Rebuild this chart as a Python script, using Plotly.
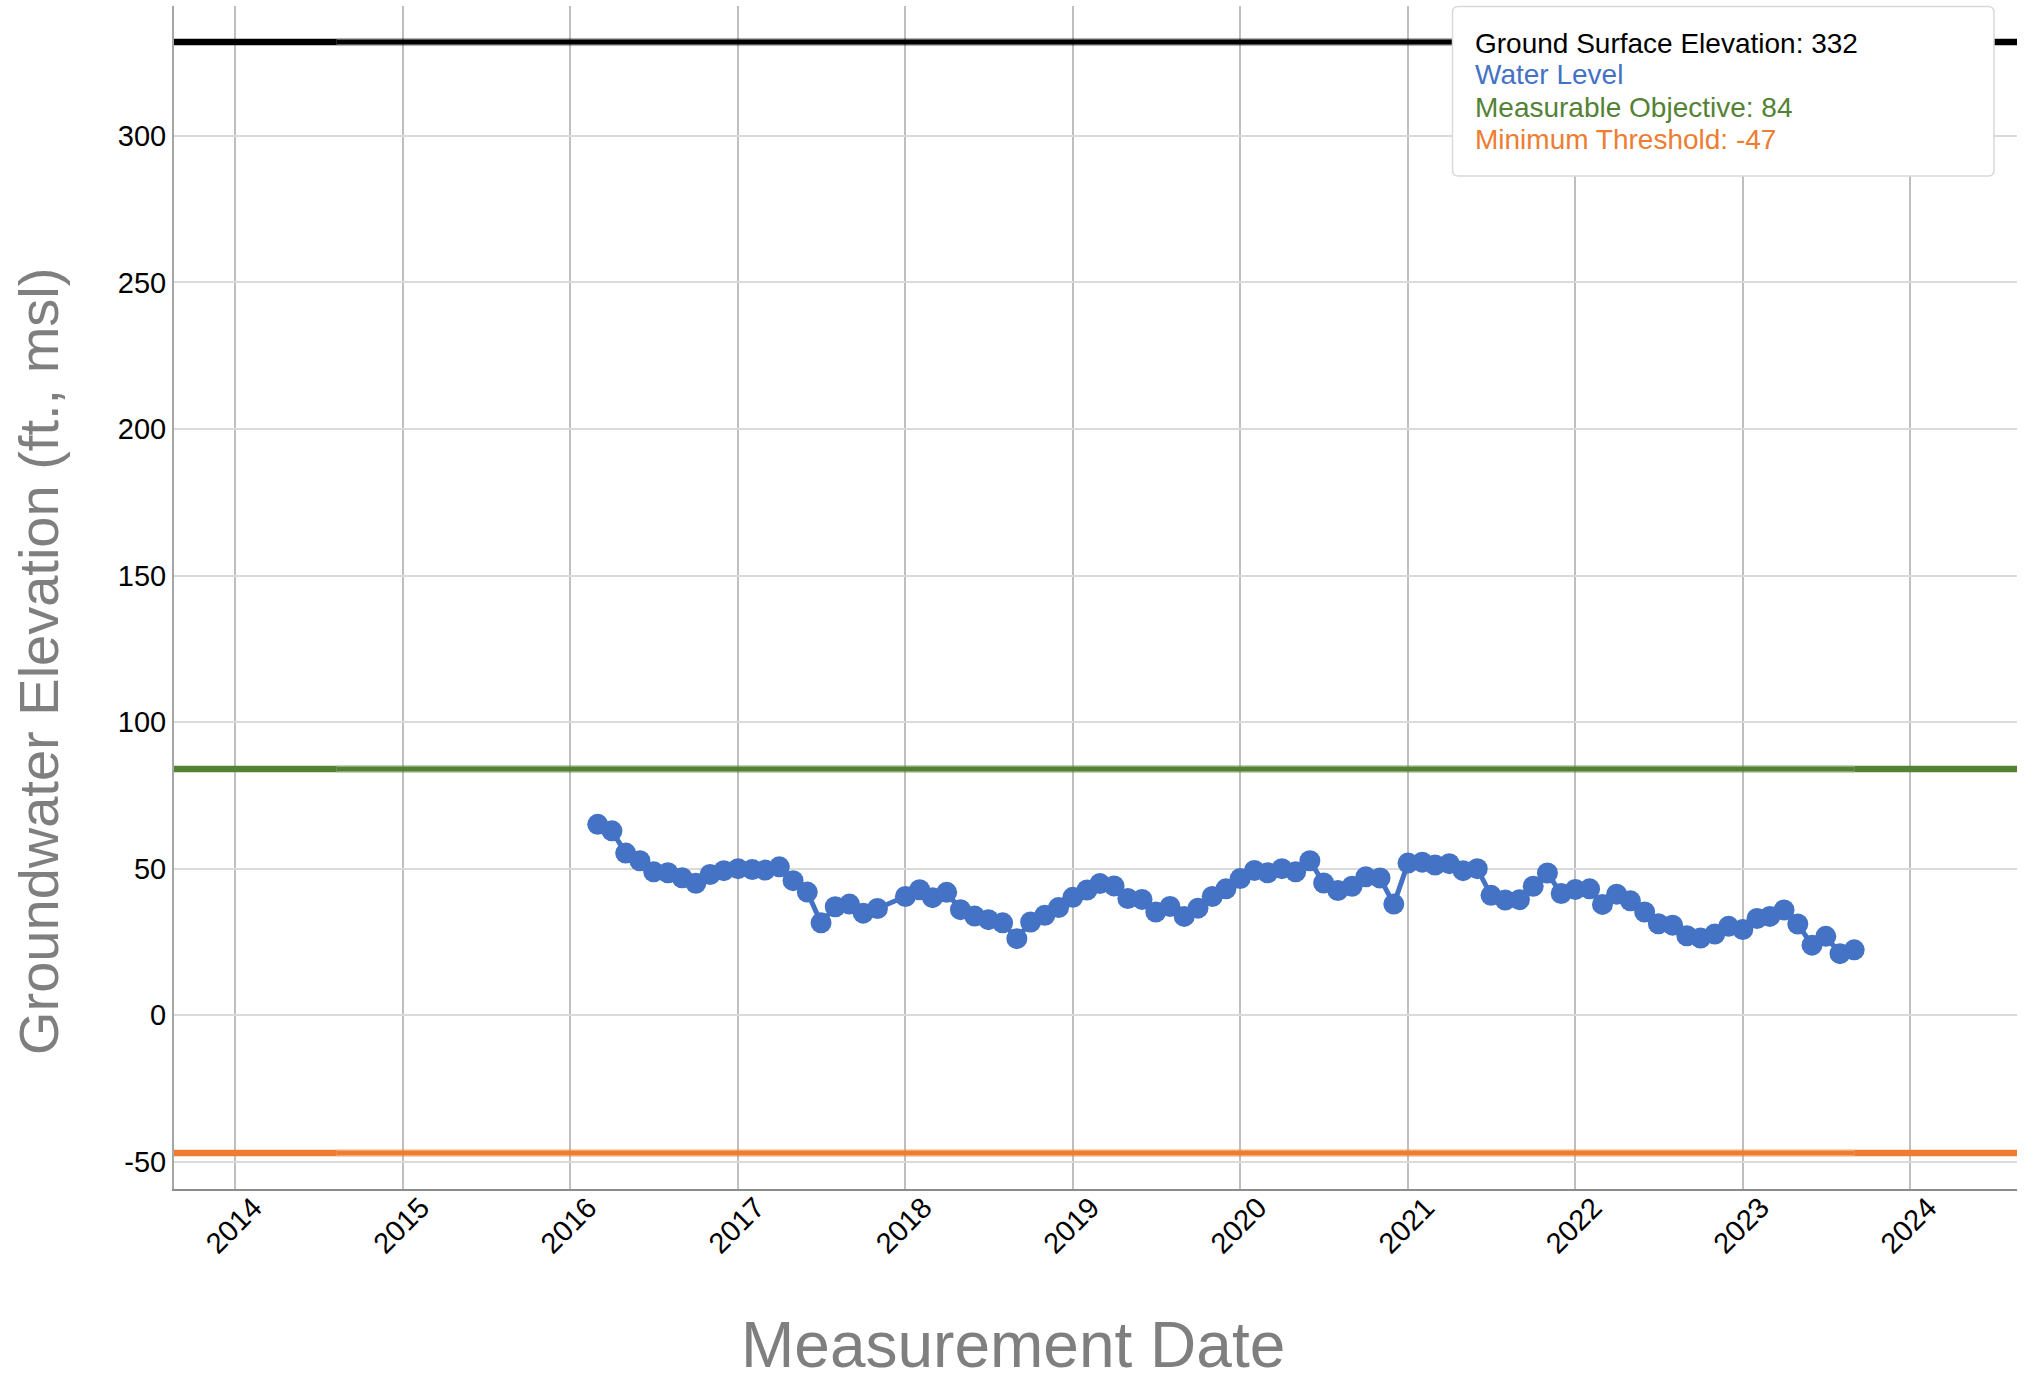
import plotly.graph_objects as go

# ---------------- data ----------------
measurement_dates = [
    "2016-03-01", "2016-04-01", "2016-05-01", "2016-06-01", "2016-07-01", "2016-08-01",
    "2016-09-01", "2016-10-01", "2016-11-01", "2016-12-01",
    "2017-01-01", "2017-02-01", "2017-03-01", "2017-04-01", "2017-05-01", "2017-06-01",
    "2017-07-01", "2017-08-01", "2017-09-01", "2017-10-01", "2017-11-01",
    "2018-01-01", "2018-02-01", "2018-03-01", "2018-04-01", "2018-05-01", "2018-06-01",
    "2018-07-01", "2018-08-01", "2018-09-01", "2018-10-01", "2018-11-01", "2018-12-01",
    "2019-01-01", "2019-02-01", "2019-03-01", "2019-04-01", "2019-05-01", "2019-06-01",
    "2019-07-01", "2019-08-01", "2019-09-01", "2019-10-01", "2019-11-01", "2019-12-01",
    "2020-01-01", "2020-02-01", "2020-03-01", "2020-04-01", "2020-05-01", "2020-06-01",
    "2020-07-01", "2020-08-01", "2020-09-01", "2020-10-01", "2020-11-01", "2020-12-01",
    "2021-01-01", "2021-02-01", "2021-03-01", "2021-04-01", "2021-05-01", "2021-06-01",
    "2021-07-01", "2021-08-01", "2021-09-01", "2021-10-01", "2021-11-01", "2021-12-01",
    "2022-01-01", "2022-02-01", "2022-03-01", "2022-04-01", "2022-05-01", "2022-06-01",
    "2022-07-01", "2022-08-01", "2022-09-01", "2022-10-01", "2022-11-01", "2022-12-01",
    "2023-01-01", "2023-02-01", "2023-03-01", "2023-04-01", "2023-05-01", "2023-06-01",
    "2023-07-01", "2023-08-01", "2023-09-01",
]
water_level = [
    65.1, 62.9, 55.3, 52.7, 48.9, 48.6, 46.9, 45.0, 48.0, 49.3,
    50.0, 49.7, 49.5, 50.6, 45.9, 42.0, 31.5, 37.0, 37.9, 34.8, 36.4,
    40.5, 42.8, 40.1, 41.9, 36.0, 33.8, 32.6, 31.5, 26.1, 31.8, 34.1, 36.7,
    40.2, 42.7, 44.9, 44.1, 39.8, 39.5, 35.2, 37.1, 33.7, 36.5, 40.5, 43.1,
    46.6, 49.4, 48.6, 50.0, 48.9, 52.7, 45.1, 42.5, 44.0, 47.2, 46.8, 37.9,
    51.9, 52.2, 51.2, 51.7, 49.3, 50.0, 40.9, 39.3, 39.4, 44.0, 48.5, 41.5,
    42.9, 43.1, 37.8, 41.3, 39.0, 35.2, 31.2, 30.7, 27.1, 26.3, 27.7, 30.3,
    29.2, 33.0, 33.7, 35.9, 31.1, 23.9, 26.9, 21.0, 22.3,
]

ground_surface = 332
measurable_objective = 84
minimum_threshold = -47

x_range = ["2013-08-20", "2024-08-21"]
segment_breaks = ["2014-08-10", "2023-09-01"]
y_ticks = [-50, 0, 50, 100, 150, 200, 250, 300]
y_tick_labels = [str(v) for v in y_ticks]
y_range = [-59.3, 344.3]

legend_labels = [
    f"Ground Surface Elevation: {ground_surface}",
    "Water Level",
    f"Measurable Objective: {measurable_objective}",
    f"Minimum Threshold: {minimum_threshold}",
]

# ---------------- styling ----------------
BLACK = "#000000"
BLUE = "#4472C4"
GREEN = "#548235"
ORANGE = "#ED7D31"
FONT = "Liberation Sans, Arial, sans-serif"

W, H = 2037, 1380
ML, MR, MT, MB = 174, 20, 6, 191
PW, PH = W - ML - MR, H - MT - MB


def px_x(px):
    return (px - ML) / PW


def px_y(py):
    return (H - MB - py) / PH


fig = go.Figure()


def add_level(value, color, rgba_pale):
    fig.add_trace(go.Scatter(
        x=[x_range[0], segment_breaks[0], None, segment_breaks[1], x_range[1]],
        y=[value, value, None, value, value],
        mode="lines", line=dict(color=color, width=6.5), hoverinfo="skip",
        showlegend=False,
    ))
    fig.add_trace(go.Scatter(
        x=[segment_breaks[0], segment_breaks[1]], y=[value, value],
        mode="lines", line=dict(color=rgba_pale, width=8), hoverinfo="skip",
        showlegend=False,
    ))
    fig.add_trace(go.Scatter(
        x=[segment_breaks[0], segment_breaks[1]], y=[value, value],
        mode="lines", line=dict(color=color, width=5), hoverinfo="skip",
        showlegend=False,
    ))


add_level(ground_surface, BLACK, "rgba(0,0,0,0.3)")
add_level(measurable_objective, GREEN, "rgba(84,130,53,0.35)")
add_level(minimum_threshold, ORANGE, "rgba(237,125,49,0.35)")

fig.add_trace(go.Scatter(
    x=measurement_dates, y=water_level, mode="lines+markers",
    line=dict(color=BLUE, width=5),
    marker=dict(color=BLUE, size=21),
    name="Water Level", showlegend=False,
))

# legend box (rounded rectangle)
bx0, bx1 = px_x(1452.5), px_x(1994)
by0, by1 = px_y(176), px_y(6.5)
rx, ry = 6 / PW, 6 / PH
path = (
    f"M {bx0+rx},{by1} L {bx1-rx},{by1} Q {bx1},{by1} {bx1},{by1-ry} "
    f"L {bx1},{by0+ry} Q {bx1},{by0} {bx1-rx},{by0} "
    f"L {bx0+rx},{by0} Q {bx0},{by0} {bx0},{by0+ry} "
    f"L {bx0},{by1-ry} Q {bx0},{by1} {bx0+rx},{by1} Z"
)
fig.add_shape(type="path", path=path, xref="paper", yref="paper",
              fillcolor="white", line=dict(color="#d9d9d9", width=1.5), layer="above")

legend_colors = [BLACK, BLUE, GREEN, ORANGE]
legend_y_px = [43, 75, 107, 139]
for label, col, ypx in zip(legend_labels, legend_colors, legend_y_px):
    fig.add_annotation(
        text=label, x=px_x(1473), y=px_y(ypx), xref="paper", yref="paper",
        xanchor="left", yanchor="middle", showarrow=False,
        font=dict(family=FONT, size=28, color=col),
    )

# axis titles as annotations
fig.add_annotation(
    text="Groundwater Elevation (ft., msl)", x=px_x(38), y=px_y(662),
    xref="paper", yref="paper", xanchor="center", yanchor="middle",
    textangle=-90, showarrow=False, font=dict(family=FONT, size=56, color="#7f7f7f"),
)
fig.add_annotation(
    text="Measurement Date", x=px_x(1013), y=px_y(1345),
    xref="paper", yref="paper", xanchor="center", yanchor="middle",
    showarrow=False, font=dict(family=FONT, size=64, color="#7f7f7f"),
)

fig.update_layout(
    width=W, height=H,
    margin=dict(l=ML, r=MR, t=MT, b=MB, pad=0),
    paper_bgcolor="white", plot_bgcolor="white",
    font=dict(family=FONT, size=29, color="black"),
    showlegend=False,
    xaxis=dict(
        type="date", range=x_range, dtick="M12", tick0="2014-01-01",
        tickformat="%Y", tickangle=-45, tickfont=dict(size=29, color="black"),
        ticklabelshift=18, ticklabelstandoff=-12,
        showgrid=True, gridcolor="#bfbfbf", gridwidth=2,
        showline=True, linecolor="#8c8c8c", linewidth=2,
        ticks="", zeroline=False,
    ),
    yaxis=dict(
        range=y_range, tickvals=y_ticks, ticktext=y_tick_labels,
        tickfont=dict(size=29, color="black"),
        showgrid=True, gridcolor="#dadada", gridwidth=2,
        showline=True, linecolor="#a6a6a6", linewidth=2,
        ticks="", zeroline=False,
    ),
)

fig.write_html(
    "out.html",
    config={"displayModeBar": False},
    post_script="document.body.style.margin='0px';document.body.style.overflow='hidden';",
)
